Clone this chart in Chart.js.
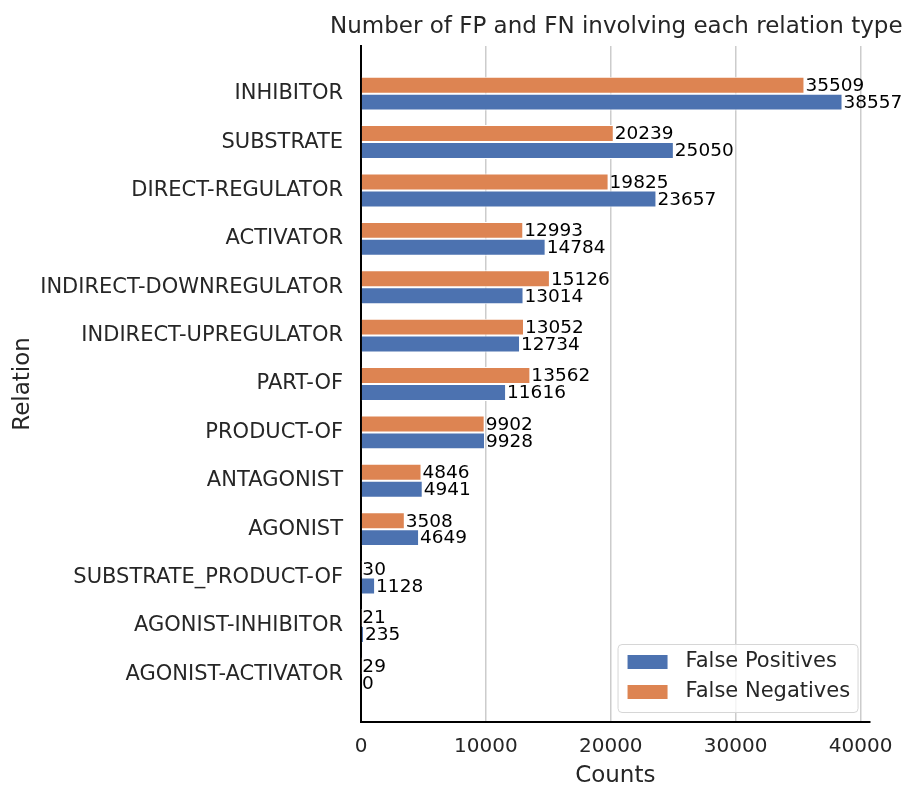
<!DOCTYPE html>
<html>
<head>
<meta charset="utf-8">
<script src="https://cdn.jsdelivr.net/npm/chart.js@4"></script>
<style>
  html, body { margin: 0; padding: 0; background: #fff; }
  #wrap { width: 906px; height: 787px; }
</style>
</head>
<body>
<div id="wrap"><canvas id="chartCanvas" width="906" height="787"></canvas></div>
<script>
const relations = ["INHIBITOR", "SUBSTRATE", "DIRECT-REGULATOR", "ACTIVATOR", "INDIRECT-DOWNREGULATOR",
  "INDIRECT-UPREGULATOR", "PART-OF", "PRODUCT-OF", "ANTAGONIST", "AGONIST",
  "SUBSTRATE_PRODUCT-OF", "AGONIST-INHIBITOR", "AGONIST-ACTIVATOR"];
const falsePositives = [38557, 25050, 23657, 14784, 13014, 12734, 11616, 9928, 4941, 4649, 1128, 235, 0];
const falseNegatives = [35509, 20239, 19825, 12993, 15126, 13052, 13562, 9902, 4846, 3508, 30, 21, 29];
const xTicks = [0, 10000, 20000, 30000, 40000];

const FONT = "'DejaVu Sans', sans-serif";
const TEXT = "#262626";
const BLUE = "#4C72B0";
const ORANGE = "#DD8452";

// value labels at bar ends
const barLabels = {
  id: "barLabels",
  afterDatasetsDraw(chart) {
    const ctx = chart.ctx;
    ctx.save();
    ctx.font = "18.5px " + FONT;
    ctx.fillStyle = "#000";
    ctx.textAlign = "left";
    ctx.textBaseline = "middle";
    chart.data.datasets.forEach((ds, di) => {
      chart.getDatasetMeta(di).data.forEach((bar, i) => {
        ctx.fillText(String(ds.data[i].x), bar.x + 1, bar.y + 1);
      });
    });
    ctx.restore();
  }
};

// title centred over the plot + legend box inside the plot
const extras = {
  id: "extras",
  afterDraw(chart) {
    const ctx = chart.ctx;
    const a = chart.chartArea;
    ctx.save();
    ctx.font = "23px " + FONT;
    ctx.fillStyle = TEXT;
    ctx.textAlign = "center";
    ctx.textBaseline = "middle";
    ctx.fillText("Number of FP and FN involving each relation type", (a.left + a.right) / 2 + 1, 27);

    // legend
    const bx = a.right - 252, by = a.bottom - 78, bw = 240, bh = 68;
    ctx.fillStyle = "rgba(255,255,255,0.8)";
    ctx.strokeStyle = "#d6d6d6";
    ctx.lineWidth = 1;
    ctx.beginPath();
    ctx.roundRect(bx + 0.5, by + 0.5, bw, bh, 4);
    ctx.fill();
    ctx.stroke();
    const items = [["False Positives", BLUE], ["False Negatives", ORANGE]];
    ctx.font = "21px " + FONT;
    ctx.textAlign = "left";
    items.forEach((it, k) => {
      const cy = by + 18 + k * 30;
      ctx.fillStyle = it[1];
      ctx.fillRect(bx + 10, cy - 7, 40, 14);
      ctx.fillStyle = TEXT;
      ctx.fillText(it[0], bx + 68, cy);
    });
    ctx.restore();
  }
};

const ctx = document.getElementById("chartCanvas").getContext("2d");
new Chart(ctx, {
  type: "bar",
  data: {
    datasets: [
      {
        label: "False Negatives",
        data: falseNegatives.map((v, i) => ({ x: v, y: i })),
        backgroundColor: ORANGE,
        borderColor: "#fff",
        borderWidth: 1,
        categoryPercentage: 0.7,
        barPercentage: 1.0
      },
      {
        label: "False Positives",
        data: falsePositives.map((v, i) => ({ x: v, y: i })),
        backgroundColor: BLUE,
        borderColor: "#fff",
        borderWidth: 1,
        categoryPercentage: 0.7,
        barPercentage: 1.0
      }
    ]
  },
  options: {
    indexAxis: "y",
    responsive: false,
    animation: false,
    layout: { padding: { left: 0, right: 36, top: 46, bottom: 0 } },
    plugins: {
      legend: { display: false },
      title: { display: false },
      tooltip: { enabled: false }
    },
    scales: {
      x: {
        type: "linear",
        min: 0,
        max: 40720,
        afterBuildTicks: s => { s.ticks = xTicks.map(v => ({ value: v })); },
        afterFit: s => { s.height = 65; },
        grid: { color: "#cccccc", lineWidth: 1.5, drawTicks: false },
        border: { display: true, color: "#000", width: 2 },
        ticks: { color: TEXT, font: { family: FONT, size: 20 }, padding: 13, callback: v => String(v) },
        title: { display: true, text: "Counts", color: TEXT, font: { family: FONT, size: 23 }, padding: { top: 0, bottom: -3 } }
      },
      y: {
        type: "linear",
        reverse: true,
        offset: false,
        min: -0.985,
        max: 12.985,
        afterBuildTicks: s => { s.ticks = relations.map((_, i) => ({ value: i })); },
        afterFit: s => { s.width = 361; },
        grid: { display: false, drawTicks: false, offset: false },
        border: { display: true, color: "#000", width: 2 },
        ticks: {
          color: TEXT,
          font: { family: FONT, size: 21 },
          padding: 18,
          autoSkip: false,
          callback: v => relations[v]
        },
        title: { display: true, text: "Relation", color: TEXT, font: { family: FONT, size: 23 }, padding: { top: 9, bottom: 0 } }
      }
    }
  },
  plugins: [barLabels, extras]
});
</script>
</body>
</html>
